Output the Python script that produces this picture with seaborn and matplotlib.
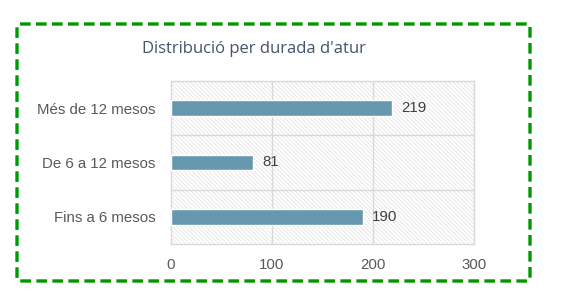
import matplotlib
matplotlib.use("Agg")
import matplotlib.pyplot as plt
import seaborn as sns
import pandas as pd
from matplotlib.patches import Rectangle, FancyBboxPatch

categories = ["Més de 12 mesos", "De 6 a 12 mesos", "Fins a 6 mesos"]
values = [219, 81, 190]
x_ticks = [0, 100, 200, 300]
title = "Distribució per durada d'atur"

sns.set_theme(style="white")
plt.rcParams['font.family'] = ['Liberation Sans', 'DejaVu Sans']
plt.rcParams['hatch.color'] = '#e0e0e0'
plt.rcParams['hatch.linewidth'] = 0.5

df = pd.DataFrame({"cat": categories, "val": values})

fig = plt.figure(figsize=(5.62, 3.01), dpi=100)
ax = fig.add_axes([171/562, 1-244/301, (474-171)/562, (244-81)/301])

bg = Rectangle((0, 0), 1, 1, transform=ax.transAxes, facecolor='white',
               edgecolor='#e0e0e0', hatch='\\' * 8, linewidth=0, zorder=0)
ax.add_patch(bg)

sns.barplot(data=df, x="val", y="cat", ax=ax, color="#6897B0", saturation=1,
            width=0.29, zorder=3)

ax.set_xlim(0, 300)
ax.set_ylim(2.5, -0.5)
ax.set_xticks(x_ticks)
ax.set_xticklabels([str(t) for t in x_ticks])
ax.set_xlabel("")
ax.set_ylabel("")

for xv in x_ticks[1:]:
    ax.axvline(xv, color='#d9d9d9', lw=1.0, zorder=1)
for yb in [0.5, 1.5]:
    ax.axhline(yb, color='#d9d9d9', lw=1.0, zorder=1)

for s in ax.spines.values():
    s.set_visible(True)
    s.set_color('#d9d9d9')
    s.set_linewidth(1.0)

ax.set_yticks([0, 1, 2])
ax.set_yticks([-0.5, 0.5, 1.5, 2.5], minor=True)
ax.tick_params(axis='y', which='major', length=0, pad=11, labelsize=10.8, labelcolor='#595959')
ax.tick_params(axis='y', which='minor', length=4, color='#d9d9d9', width=1)
ax.tick_params(axis='x', which='major', length=0, pad=10, labelsize=10.8, labelcolor='#595959')

for i, v in enumerate(values):
    ax.text(v + 9, i, str(v), va='center', ha='left', fontsize=10.8, color='#404040', zorder=4)

fig.text(254/562, 1-49/301, title, ha='center', va='center', fontsize=12,
         color='#44546A', family=['Open Sans', 'DejaVu Sans'])

border = FancyBboxPatch((17/562, 1-281/301), (530-17)/562, (281-24)/301,
                        boxstyle="round,pad=0,rounding_size=0.006",
                        transform=fig.transFigure, fill=False, edgecolor='#009900',
                        linewidth=2.4, linestyle=(0, (3.2, 1.6)))
fig.patches.append(border)

fig.savefig("out.png", dpi=100)
